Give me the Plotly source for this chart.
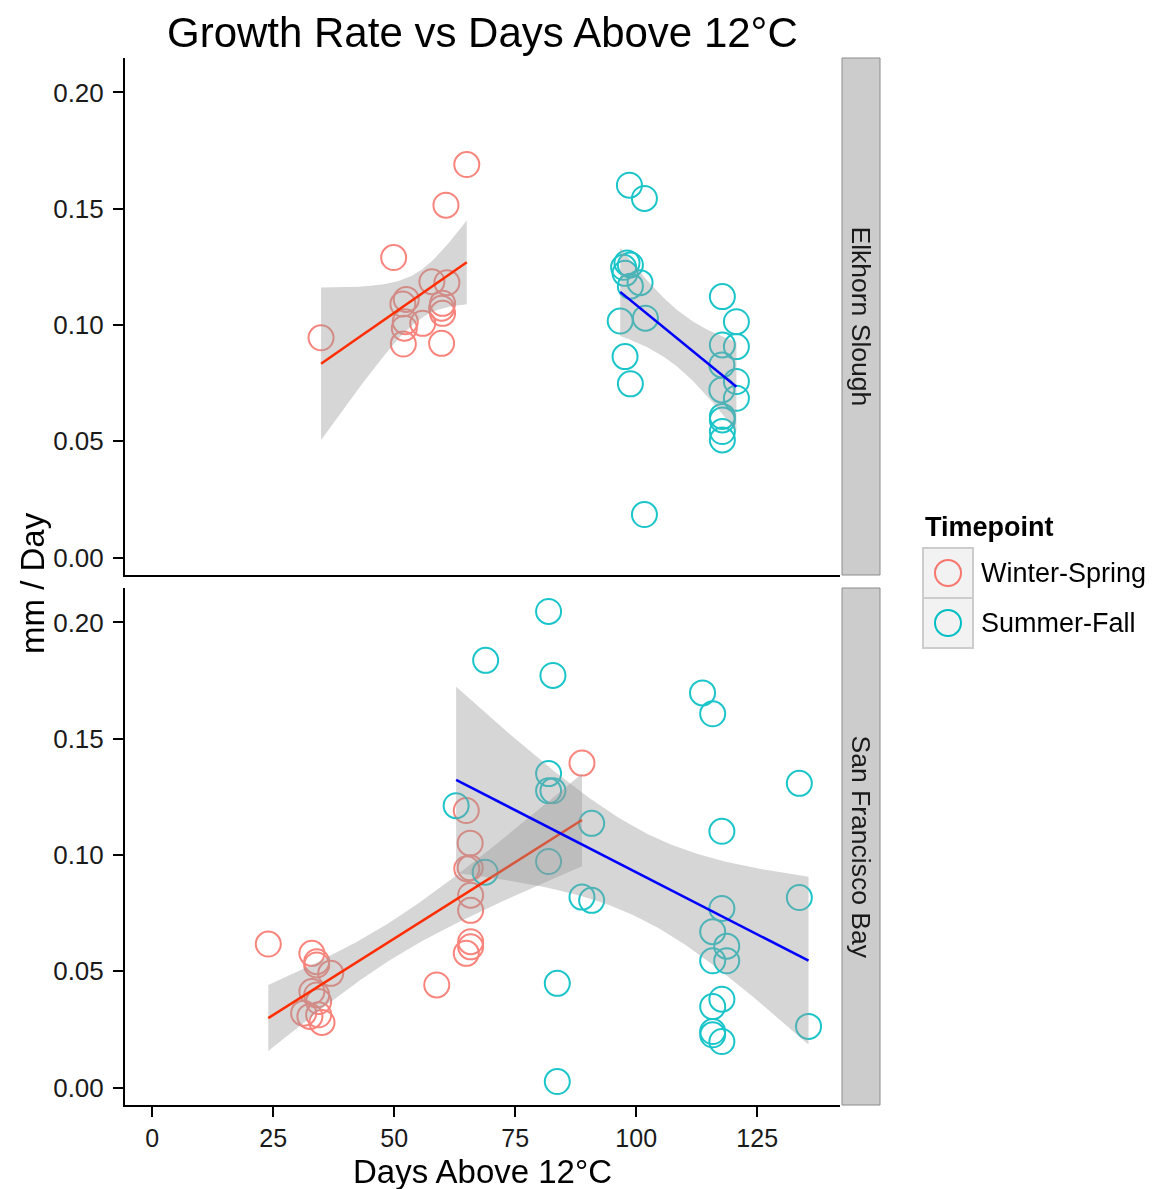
import math
import numpy as np
import plotly.graph_objects as go

# ---------------- data ----------------
panels = ["Elkhorn Slough", "San Francisco Bay"]
groups = ["Winter-Spring", "Summer-Fall"]

es_ws_x = [65.0, 60.7, 49.9, 34.9, 57.8, 60.9, 52.5, 51.8, 60.0, 59.8, 60.0, 52.3, 52.1, 55.9, 51.9, 59.8]
es_ws_y = [0.1690, 0.1515, 0.1290, 0.0945, 0.1186, 0.1182, 0.1110, 0.1090, 0.1093, 0.1072, 0.1050,
           0.1014, 0.0986, 0.1007, 0.0918, 0.0921]

es_sf_x = [98.6, 101.7, 98.1, 98.8, 97.4, 97.7, 98.8, 100.8, 96.7, 101.9, 97.7, 98.8, 101.7,
           117.8, 120.7, 117.8, 120.7, 117.7, 117.7, 120.7, 120.7, 117.8, 117.8, 117.8, 117.8]
es_sf_y = [0.1601, 0.1544, 0.1267, 0.1258, 0.1248, 0.1222, 0.1167, 0.1182, 0.1017, 0.1029, 0.0864, 0.0747, 0.0185,
           0.1122, 0.1014, 0.0914, 0.0907, 0.0828, 0.0721, 0.0757, 0.0685, 0.0607, 0.0592, 0.0542, 0.0506]

sf_ws_x = [24.0, 33.0, 34.0, 34.0, 36.9, 33.0, 34.0, 34.4, 31.3, 32.6, 35.1, 34.4, 58.8, 88.8,
           64.9, 65.7, 65.0, 65.7, 65.8, 65.8, 65.8, 65.8, 64.9]
sf_ws_y = [0.0617, 0.0577, 0.0541, 0.0527, 0.0491, 0.0413, 0.0398, 0.0370, 0.0320, 0.0306, 0.0280, 0.0313,
           0.0441, 0.1395, 0.1191, 0.1051, 0.0941, 0.0945, 0.0827, 0.0762, 0.0627, 0.0605, 0.0577]

sf_sf_x = [62.8, 68.8, 81.9, 81.9, 82.8, 81.9, 83.7, 90.8, 88.8, 90.8, 81.9, 68.9, 82.8, 83.7,
           113.7, 115.8, 133.7, 117.7, 133.7, 117.7, 115.8, 118.7, 115.8, 118.7, 117.7, 115.8,
           115.8, 115.8, 117.7, 135.6]
sf_sf_y = [0.1212, 0.0926, 0.1350, 0.1276, 0.1276, 0.0972, 0.0448, 0.1136, 0.0819, 0.0805, 0.2047,
           0.1837, 0.1772, 0.0026, 0.1697, 0.1607, 0.1308, 0.1102, 0.0817, 0.0770, 0.0670, 0.0608,
           0.0545, 0.0545, 0.0380, 0.0348, 0.0241, 0.0227, 0.0198, 0.0263]

x_ticks = [0, 25, 50, 75, 100, 125]
y_ticks = [0.00, 0.05, 0.10, 0.15, 0.20]

# ---------------- styles ----------------
FONT = "Liberation Sans, Arial, Helvetica, sans-serif"
PT_COLORS = {"Winter-Spring": "#F8766D", "Summer-Fall": "#00BFC4"}
LINE_COLORS = {"Winter-Spring": "#FF2D00", "Summer-Fall": "#0000FF"}
BAND = "rgba(153,153,153,0.4)"


def t_crit(df, p=0.975):
    xs = np.linspace(0, 12, 24001)
    c = math.gamma((df + 1) / 2) / (math.sqrt(df * math.pi) * math.gamma(df / 2))
    pdf = c * (1 + xs ** 2 / df) ** (-(df + 1) / 2)
    cdf = 0.5 + np.concatenate([[0], np.cumsum((pdf[1:] + pdf[:-1]) / 2 * np.diff(xs))])
    return float(np.interp(p, cdf, xs))


def lm_fit(x, y, n_out=80):
    x = np.asarray(x, float)
    y = np.asarray(y, float)
    n = len(x)
    b1, b0 = np.polyfit(x, y, 1)
    resid = y - (b0 + b1 * x)
    s = math.sqrt(float(np.sum(resid ** 2)) / (n - 2))
    xbar = x.mean()
    sxx = float(np.sum((x - xbar) ** 2))
    xg = np.linspace(x.min(), x.max(), n_out)
    yg = b0 + b1 * xg
    se = s * np.sqrt(1 / n + (xg - xbar) ** 2 / sxx)
    t = t_crit(n - 2)
    return xg, yg, yg - t * se, yg + t * se


data = {
    ("Elkhorn Slough", "Winter-Spring"): (es_ws_x, es_ws_y),
    ("Elkhorn Slough", "Summer-Fall"): (es_sf_x, es_sf_y),
    ("San Francisco Bay", "Winter-Spring"): (sf_ws_x, sf_ws_y),
    ("San Francisco Bay", "Summer-Fall"): (sf_sf_x, sf_sf_y),
}
axes = {"Elkhorn Slough": ("x", "y"), "San Francisco Bay": ("x2", "y2")}

fig = go.Figure()

for panel in panels:
    xa, ya = axes[panel]
    for g in groups:
        x, y = data[(panel, g)]
        fig.add_trace(go.Scatter(
            x=x, y=y, mode="markers", xaxis=xa, yaxis=ya, showlegend=False,
            marker=dict(symbol="circle-open", size=25, color=PT_COLORS[g],
                        line=dict(width=2, color=PT_COLORS[g])),
            opacity=0.9, name=g, hoverinfo="x+y"))
    for g in groups:
        x, y = data[(panel, g)]
        xg, yg, lo, hi = lm_fit(x, y)
        fig.add_trace(go.Scatter(
            x=np.concatenate([xg, xg[::-1]]), y=np.concatenate([hi, lo[::-1]]),
            mode="lines", fill="toself", fillcolor=BAND, line=dict(width=0),
            xaxis=xa, yaxis=ya, showlegend=False, hoverinfo="skip"))
        fig.add_trace(go.Scatter(
            x=xg, y=yg, mode="lines", line=dict(color=LINE_COLORS[g], width=2.5),
            xaxis=xa, yaxis=ya, showlegend=False, hoverinfo="skip"))

# ---------------- layout ----------------
W, H = 1152, 1189
L, R, T, B = 125, 272, 58, 84
PW, PH = W - L - R, H - T - B


def px(xp):
    return (xp - L) / PW


def py(yp):
    return (T + PH - yp) / PH


xdom = [0, px(840)]
top_dom = [py(575), 1.0]
bot_dom = [0.0, py(588)]
xr = [-5.6, 142.1]
yr = [-0.0075, 0.2148]

common_x = dict(range=xr, domain=xdom, showgrid=False, zeroline=False, showline=True,
                linecolor="black", linewidth=2, tickvals=x_ticks,
                ticktext=[str(v) for v in x_ticks])
common_y = dict(range=yr, showgrid=False, zeroline=False, showline=True,
                linecolor="black", linewidth=2, tickvals=y_ticks,
                ticktext=[f"{v:.2f}" for v in y_ticks], ticks="outside", ticklen=10,
                tickwidth=2, tickcolor="black", ticklabelstandoff=4,
                tickfont=dict(family=FONT, size=26, color="#1a1a1a"))

fig.update_layout(
    width=W, height=H, margin=dict(l=L, r=R, t=T, b=B),
    paper_bgcolor="white", plot_bgcolor="white", showlegend=False,
    font=dict(family=FONT, color="black"),
    xaxis=dict(**common_x, anchor="y", ticks="", showticklabels=False),
    yaxis=dict(**common_y, domain=top_dom, anchor="x"),
    xaxis2=dict(**common_x, anchor="y2", ticks="outside", ticklen=10, tickwidth=2,
                tickcolor="black", tickfont=dict(family=FONT, size=25, color="#1a1a1a")),
    yaxis2=dict(**common_y, domain=bot_dom, anchor="x2"),
)

shapes = []
annotations = []

# facet strips
for panel, dom in zip(panels, [top_dom, bot_dom]):
    shapes.append(dict(type="rect", xref="paper", yref="paper", x0=px(842), x1=px(880),
                       y0=dom[0], y1=dom[1], fillcolor="#CCCCCC",
                       line=dict(color="#8C8C8C", width=1), layer="below"))
    annotations.append(dict(text=panel, xref="paper", yref="paper", x=px(861),
                            y=(dom[0] + dom[1]) / 2, showarrow=False, textangle=90,
                            font=dict(family=FONT, size=26.5, color="#1a1a1a"),
                            xanchor="center", yanchor="middle"))

# titles
annotations.append(dict(text="Growth Rate vs Days Above 12°C", xref="paper", yref="paper",
                        x=px(482.5), y=py(33), showarrow=False, xanchor="center",
                        yanchor="middle", font=dict(family=FONT, size=42, color="black")))
annotations.append(dict(text="Days Above 12°C", xref="paper", yref="paper",
                        x=px(482.5), y=py(1171), showarrow=False, xanchor="center",
                        yanchor="middle", font=dict(family=FONT, size=33, color="black")))
annotations.append(dict(text="mm / Day", xref="paper", yref="paper",
                        x=px(32), y=py(583), showarrow=False, textangle=-90,
                        xanchor="center", yanchor="middle",
                        font=dict(family=FONT, size=33, color="black")))

# legend (drawn manually)
annotations.append(dict(text="<b>Timepoint</b>", xref="paper", yref="paper",
                        x=px(923), y=py(527), showarrow=False, xanchor="left",
                        yanchor="middle", font=dict(family=FONT, size=27, color="black")))
for i, g in enumerate(groups):
    y0, y1 = 548 + 50 * i, 598 + 50 * i
    shapes.append(dict(type="rect", xref="paper", yref="paper", x0=px(923), x1=px(973),
                       y0=py(y1), y1=py(y0), fillcolor="#F2F2F2",
                       line=dict(color="#CCCCCC", width=2)))
    cy = (y0 + y1) / 2
    shapes.append(dict(type="circle", xref="paper", yref="paper",
                       xsizemode="pixel", ysizemode="pixel",
                       xanchor=px(948), yanchor=py(cy), x0=-13, x1=13, y0=-13, y1=13,
                       line=dict(color=PT_COLORS[g], width=2), fillcolor="rgba(0,0,0,0)"))
    annotations.append(dict(text=g, xref="paper", yref="paper", x=px(979), y=py(cy),
                            showarrow=False, xanchor="left", yanchor="middle",
                            font=dict(family=FONT, size=27, color="black")))

fig.update_layout(shapes=shapes, annotations=annotations)
fig.write_html("out.html")
